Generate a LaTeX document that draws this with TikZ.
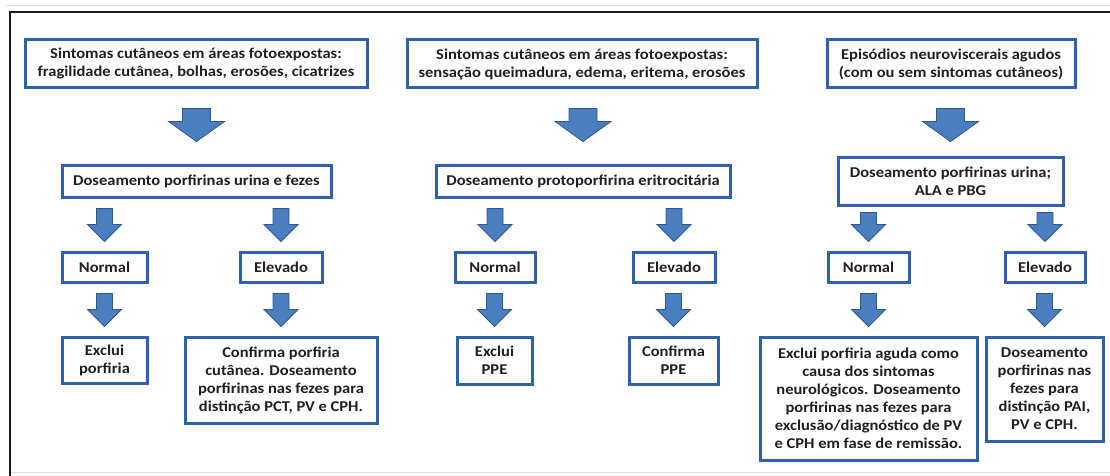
\documentclass[tikz,border=0pt]{standalone}
\usepackage{fontspec}
\setmainfont[FakeStretch=1.1]{Carlito}
\usetikzlibrary{calc}

\definecolor{boxblue}{RGB}{46,98,172}
\definecolor{arrfill}{RGB}{74,126,190}
\definecolor{arredge}{RGB}{47,88,140}

% block arrow from one node to the next: src, tgt, top gap, tip gap,
% shaft half width, head half width, head length
\newcommand{\blockarr}[7]{%
  \draw[blk] let \p1=(#1.south), \p2=(#2.north) in
    ({\x2-#5},{\y1-#3}) -- ({\x2+#5},{\y1-#3}) -- ({\x2+#5},{\y2+#4+#7})
    -- ({\x2+#6},{\y2+#4+#7}) -- (\x2,{\y2+#4}) -- ({\x2-#6},{\y2+#4+#7})
    -- ({\x2-#5},{\y2+#4+#7}) -- cycle;}
\newcommand{\bigarr}[4]{\blockarr{#1}{#2}{#3}{#4}{14pt}{28pt}{20pt}}
\newcommand{\smallarr}[4]{\blockarr{#1}{#2}{#3}{#4}{8pt}{17pt}{17pt}}

\begin{document}
\begin{tikzpicture}[
     x=1pt,y=-1pt,
     box/.style={draw=boxblue,line width=3pt,fill=white,align=center,
       inner sep=2pt,text=black!88,
       font=\fontsize{15}{18}\selectfont\bfseries},
     blk/.style={fill=arrfill,draw=arredge,line width=0.8pt,line join=miter}
   ]
   \path[use as bounding box] (0,0) rectangle (1110,476);
   % Frame.
   \draw[black!12,line width=0.8pt] (6,5) -- (1110,5);
   \draw[black!12,line width=0.8pt] (10,472) -- (1110,472);
   \draw[black!90,line width=2pt] (10,476) -- (10,12) -- (1110,12);
   % Cutaneous, fragile skin.
   \node[box,minimum width=342,minimum height=48] (s1) at (196,64)
     {Sintomas cutâneos em áreas fotoexpostas:\\fragilidade cutânea, bolhas, erosões, cicatrizes};
   \node[box,minimum width=269,minimum height=32] (d1) at (196.5,181)
     {Doseamento porfirinas urina e fezes};
   \node[box,minimum width=85,minimum height=30] (n1) at (104.5,267) {Normal};
   \node[box,minimum width=82,minimum height=30] (e1) at (281,267) {Elevado};
   \node[box,minimum width=85,minimum height=46] (x1) at (104.5,360) {Exclui\\porfiria};
   \node[box,minimum width=192,minimum height=86] (c1) at (281,380)
     {Confirma porfiria\\cutânea. Doseamento\\porfirinas nas fezes para\\distinção PCT, PV e CPH.};
   % Cutaneous, burning.
   \node[box,minimum width=350,minimum height=48] (s2) at (582,64)
     {Sintomas cutâneos em áreas fotoexpostas:\\sensação queimadura, edema, eritema, erosões};
   \node[box,minimum width=294,minimum height=32] (d2) at (583,181)
     {Doseamento protoporfirina eritrocitária};
   \node[box,minimum width=80,minimum height=30] (n2) at (495,267) {Normal};
   \node[box,minimum width=82,minimum height=30] (e2) at (674,267) {Elevado};
   \node[box,minimum width=75,minimum height=47] (x2) at (494.5,360.5) {Exclui\\PPE};
   \node[box,minimum width=89,minimum height=47] (c2) at (673.5,360.5) {Confirma\\PPE};
   % Acute neurovisceral.
   \node[box,minimum width=248,minimum height=48] (s3) at (951,64)
     {Episódios neuroviscerais agudos\\(com ou sem sintomas cutâneos)};
   \node[box,minimum width=225,minimum height=48] (d3) at (950.5,181)
     {Doseamento porfirinas urina;\\ALA e PBG};
   \node[box,minimum width=81,minimum height=30] (n3) at (868.5,267) {Normal};
   \node[box,minimum width=80,minimum height=30] (e3) at (1045,267) {Elevado};
   \node[box,minimum width=217,minimum height=123] (x3) at (868.5,398.5)
     {Exclui porfiria aguda como\\causa dos sintomas\\neurológicos. Doseamento\\porfirinas nas fezes para\\exclusão/diagnóstico de PV\\e CPH em fase de remissão.};
   \node[box,minimum width=117,minimum height=104] (c3) at (1044.5,389)
     {Doseamento\\porfirinas nas\\fezes para\\distinção PAI,\\PV e CPH.};
   % Arrows.
   \bigarr{s1}{d1}{19pt}{22pt}
   \bigarr{s2}{d2}{19pt}{22pt}
   \bigarr{s3}{d3}{19pt}{14pt}
   \foreach \a/\b in {d1/n1,d1/e1,d2/n2,d2/e2,n1/x1,e1/c1,n2/x2,e2/c2,n3/x3,e3/c3}
     {\smallarr{\a}{\b}{10pt}{9pt}}
   \smallarr{d3}{n3}{6pt}{9pt}
   \smallarr{d3}{e3}{6pt}{9pt}
 \end{tikzpicture}
\end{document}
